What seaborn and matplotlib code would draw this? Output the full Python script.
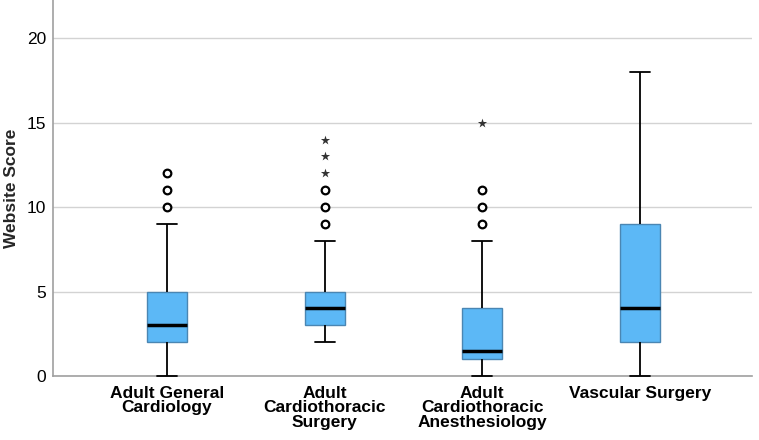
import pandas as pd
import matplotlib
matplotlib.use("Agg")
import matplotlib.pyplot as plt
import seaborn as sns

groups = ["Adult General\nCardiology", "Adult\nCardiothoracic\nSurgery",
          "Adult\nCardiothoracic\nAnesthesiology", "Vascular Surgery"]

# five-number summaries
whisker_low = [0, 2, 0, 0]
q1 = [2, 3, 1, 2]
median = [3, 4, 1.5, 4]
q3 = [5, 5, 4, 9]
whisker_high = [9, 8, 8, 18]

# outliers (circles) and extreme values (stars)
outliers = [[10, 11, 12], [9, 10, 11], [9, 10, 11], []]
extremes = [[], [12, 13, 14], [15], []]

rows = []
for i, g in enumerate(groups):
    for v in (whisker_low[i], q1[i], median[i], q3[i], whisker_high[i]):
        rows.append({"group": g, "score": v})
df = pd.DataFrame(rows)

df_out = pd.DataFrame([{"group": g, "score": v} for g, vals in zip(groups, outliers) for v in vals])
df_ext = pd.DataFrame([{"group": g, "score": v} for g, vals in zip(groups, extremes) for v in vals])

sns.set_style("white")
plt.rcParams["font.family"] = ["Liberation Sans", "DejaVu Sans"]

fig = plt.figure(figsize=(7.59, 4.40), dpi=100)
ax = fig.add_axes([53 / 759, 1 - 376 / 440, 699 / 759, 376 / 440])

sns.boxplot(data=df, x="group", y="score", order=groups, whis=(0, 100),
            width=0.254, color="#5cb8f6", saturation=1, showfliers=False,
            linecolor="black", linewidth=1.3,
            boxprops=dict(edgecolor="#4a86b3", linewidth=1.0),
            medianprops=dict(color="black", linewidth=2.5),
            ax=ax)
# whiskers and caps drawn over the bottom spine, as in the original
for ln in ax.lines:
    ln.set_zorder(3)
    ln.set_clip_on(False)

sns.stripplot(data=df_out, x="group", y="score", order=groups, jitter=False,
              marker="o", color="white", edgecolor="black", linewidth=1.6,
              size=5.5, ax=ax, zorder=5)
sns.stripplot(data=df_ext, x="group", y="score", order=groups, jitter=False,
              marker="*", color="#333333", linewidth=0, size=7, ax=ax, zorder=5)

ax.set_xlim(-0.723, 3.71)
ax.set_ylim(0, 22.26)
ax.set_yticks([0, 5, 10, 15, 20])
ax.yaxis.grid(True, color="#d3d3d3", linewidth=1.0)
ax.set_axisbelow(True)
for s in ["top", "right"]:
    ax.spines[s].set_visible(False)
for s in ["left", "bottom"]:
    ax.spines[s].set_color("#a0a0a0")
    ax.spines[s].set_linewidth(1.2)

ax.tick_params(axis="both", length=0, labelsize=12.5, colors="black")
ax.tick_params(axis="y", pad=5)
ax.tick_params(axis="x", pad=7)
for lab in ax.get_xticklabels():
    lab.set_fontweight("bold")
    lab.set_linespacing(0.95)
ax.set_xlabel("")
ax.set_ylabel("Website Score", fontsize=12.5, fontweight="bold")
ax.yaxis.set_label_coords(-34 / 699, 0.5)

fig.savefig("out.png", dpi=100)
